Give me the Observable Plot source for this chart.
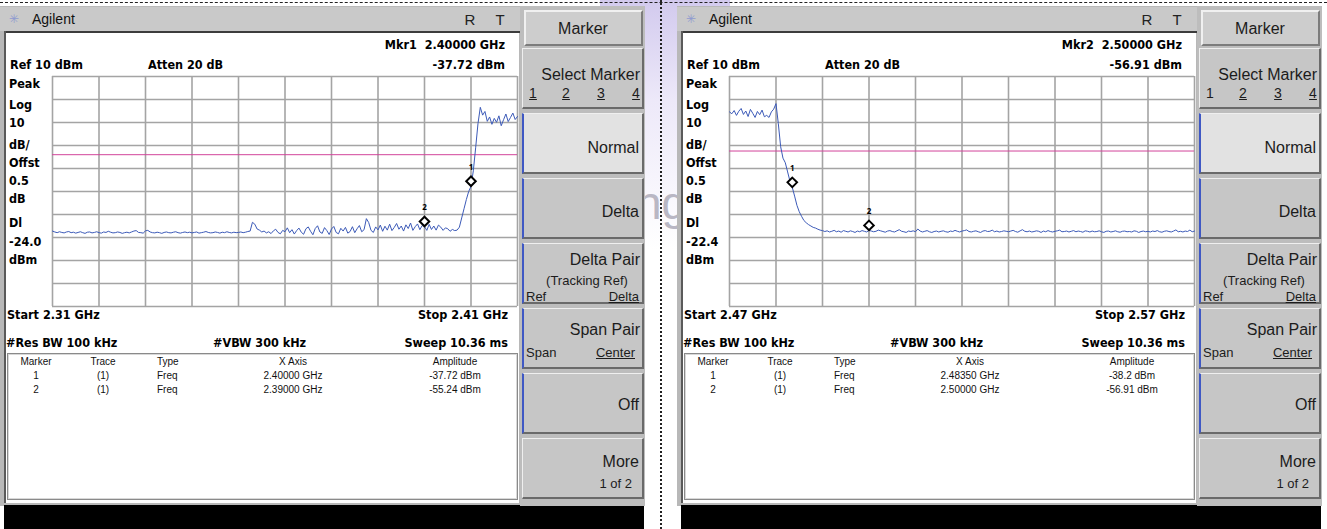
<!DOCTYPE html>
<html><head><meta charset="utf-8">
<script src="https://cdn.jsdelivr.net/npm/d3@7"></script>
<script src="https://cdn.jsdelivr.net/npm/@observablehq/plot@0.6"></script>
<style>
body{margin:0;background:#fff;}
#root{position:relative;width:1327px;height:529px;overflow:hidden;background:#fff;font-family:"Liberation Sans",Arial,sans-serif;}
.a{position:absolute;white-space:pre;box-sizing:border-box;}
.b{font-family:"Liberation Sans Narrow","DejaVu Sans Condensed",sans-serif;font-weight:bold;color:#000;}
.r{font-family:"Liberation Sans",Arial,sans-serif;color:#1c1c1c;}
.key{background:#c6c6c6;border-top:1px solid #efefef;border-left:1px solid #efefef;border-right:2px solid #6a6a6a;border-bottom:2px solid #6a6a6a;}
</style></head>
<body><div id="root"></div>
<script>
// ---------- data ----------
const refLevel = 10;
const yGridLevels = [10, 0, -10, -20, -30, -40, -50, -60, -70, -80, -90];
const leftSpan = [2.31, 2.41];
const rightSpan = [2.47, 2.57];
const leftDisplayLine = -24.0;
const rightDisplayLine = -22.4;
const leftMarkerFreq = [2.40, 2.39];
const leftMarkerAmp = [-37.72, -55.24];
const rightMarkerFreq = [2.4835, 2.50];
const rightMarkerAmp = [-38.2, -56.91];

const leftTrace = [
-57.2,-57.6,-57.9,-57.5,-57.8,-58.0,-57.6,-57.4,-57.9,-57.7,
-58.1,-57.8,-57.5,-57.9,-58.2,-57.7,-57.6,-58.0,-57.8,-57.5,
-57.9,-58.1,-57.6,-57.8,-57.3,-57.7,-58.0,-57.9,-57.6,-57.8,
-58.2,-57.9,-57.7,-58.0,-57.6,-57.2,-57.0,-57.8,-57.9,-58.1,
-57.1,-56.9,-57.6,-57.9,-58.0,-57.7,-57.9,-58.2,-57.8,-57.6,
-57.9,-58.0,-57.7,-57.5,-57.9,-58.1,-57.8,-57.6,-57.9,-57.7,
-58.0,-57.8,-57.6,-58.1,-57.9,-57.7,-57.4,-57.8,-58.0,-57.9,
-57.6,-57.8,-58.1,-57.7,-57.9,-57.5,-57.8,-58.0,-57.7,-57.9,
-57.8,-57.6,-57.9,-57.7,-57.4,-57.2,-53.4,-54.2,-56.3,-56.8,
-57.6,-57.2,-58.0,-57.5,-58.3,-57.1,-56.4,-57.8,-58.4,-56.9,
-57.5,-55.8,-57.9,-56.6,-58.5,-57.0,-55.9,-57.7,-58.6,-56.2,
-55.4,-57.3,-58.8,-56.1,-54.9,-57.6,-58.2,-55.7,-57.0,-58.7,
-56.3,-55.2,-57.8,-58.4,-56.0,-57.2,-55.6,-58.1,-57.4,-55.3,
-57.9,-56.2,-54.8,-57.5,-56.6,-51.8,-53.5,-56.9,-57.8,-55.4,
-56.7,-54.6,-57.3,-55.1,-56.8,-54.2,-57.0,-55.6,-53.9,-56.4,
-55.0,-57.2,-54.5,-56.1,-53.7,-56.9,-55.3,-54.1,-56.6,-54.8,
-55.24,-56.9,-54.3,-56.5,-55.0,-56.8,-54.6,-55.5,-56.9,-55.8,
-56.2,-57.3,-56.5,-57.0,-56.8,-55.5,-51.5,-47.5,-43.5,-40.0,
-37.72,-31.0,-21.0,-10.5,-3.4,-6.8,-5.2,-9.5,-7.6,-10.8,
-8.2,-9.9,-7.1,-11.4,-8.8,-6.3,-9.6,-7.8,-5.9,-8.7,
-7.4];

const rightTrace = [
-5.4,-6.2,-4.8,-6.9,-5.1,-3.9,-6.5,-5.0,-7.4,-4.3,
-6.0,-7.8,-5.2,-6.6,-4.6,-7.5,-6.9,-7.8,-5.4,-4.2,
-1.8,-10.5,-20.5,-25.5,-27.5,-31.5,-35.5,-38.2,-42.0,-46.0,
-48.8,-50.8,-52.6,-53.6,-54.4,-55.0,-55.6,-55.9,-56.4,-56.8,
-57.0,-57.4,-57.1,-57.6,-57.3,-56.9,-57.5,-57.2,-57.7,-57.0,
-57.3,-57.6,-57.1,-57.4,-57.8,-57.2,-57.5,-57.0,-57.3,-57.6,
-56.91,-57.2,-57.5,-57.3,-56.8,-57.1,-57.4,-57.7,-57.2,-57.0,
-57.4,-57.6,-57.1,-56.6,-57.3,-57.5,-57.8,-57.2,-57.4,-57.1,
-57.5,-56.3,-57.2,-57.6,-57.3,-57.0,-57.5,-57.8,-57.4,-57.2,
-57.6,-57.3,-57.1,-57.5,-57.7,-57.2,-57.4,-56.9,-57.3,-57.6,
-57.2,-57.0,-56.7,-57.4,-57.6,-57.3,-57.1,-57.5,-57.8,-57.2,
-57.0,-57.4,-57.3,-56.8,-57.5,-57.2,-57.6,-57.4,-57.1,-57.3,
-57.5,-57.2,-56.9,-57.4,-57.7,-57.1,-56.6,-57.3,-57.5,-57.2,
-57.6,-57.4,-57.1,-57.3,-57.8,-57.2,-57.5,-57.0,-57.4,-57.6,
-57.3,-57.1,-56.8,-57.5,-57.4,-57.2,-57.6,-57.3,-57.0,-57.5,
-57.2,-57.4,-57.7,-57.1,-57.3,-57.6,-57.2,-57.5,-57.4,-57.1,
-57.5,-57.8,-57.3,-57.2,-57.6,-57.4,-57.1,-57.5,-57.7,-57.3,
-57.2,-57.5,-57.4,-57.6,-57.1,-57.3,-57.8,-57.4,-57.2,-57.5,
-57.3,-57.6,-57.2,-57.4,-57.0,-57.5,-57.7,-57.3,-57.1,-57.4,
-57.6,-57.2,-56.7,-57.5,-57.3,-57.6,-57.2,-57.4,-56.8,-57.5,
-57.2];

const leftMkrReadout = ["Mkr1  2.40000 GHz", "-37.72 dBm"];
const rightMkrReadout = ["Mkr2  2.50000 GHz", "-56.91 dBm"];
const leftSideLabels = ["Peak", "Log", "10", "dB/", "Offst", "0.5", "dB", "Dl", "-24.0", "dBm"];
const rightSideLabels = ["Peak", "Log", "10", "dB/", "Offst", "0.5", "dB", "Dl", "-22.4", "dBm"];
const leftStartStop = ["Start 2.31 GHz", "Stop 2.41 GHz"];
const rightStartStop = ["Start 2.47 GHz", "Stop 2.57 GHz"];
const bwLabels = ["#Res BW 100 kHz", "#VBW 300 kHz", "Sweep 10.36 ms"];
const setupLabels = ["Ref 10 dBm", "Atten 20 dB"];
const tableHeader = ["Marker", "Trace", "Type", "X Axis", "Amplitude"];
const leftRows = [["1", "(1)", "Freq", "2.40000 GHz", "-37.72 dBm"], ["2", "(1)", "Freq", "2.39000 GHz", "-55.24 dBm"]];
const rightRows = [["1", "(1)", "Freq", "2.48350 GHz", "-38.2 dBm"], ["2", "(1)", "Freq", "2.50000 GHz", "-56.91 dBm"]];
const softkeys = ["Marker", "Select Marker", "Normal", "Delta", "Delta Pair", "Span Pair", "Off", "More"];
const softkeySubs = {"Delta Pair": ["(Tracking Ref)", "Ref", "Delta"], "Span Pair": ["Span", "Center"], "More": ["1 of 2"]};
const markerDigits = ["1", "2", "3", "4"];

// ---------- helpers ----------
const root = document.getElementById("root");
function box(x, y, w, h, bg, extra) {
  const d = document.createElement("div");
  d.className = "a";
  Object.assign(d.style, {left: x + "px", top: y + "px", width: w + "px", height: h + "px", background: bg}, extra || {});
  root.appendChild(d);
  return d;
}
function txt(x, y, s, o) {
  o = o || {};
  const d = document.createElement("div");
  d.className = "a " + (o.cls || "r");
  d.textContent = s;
  const fs = o.size || 13;
  d.style.fontSize = fs + "px";
  d.style.lineHeight = (fs + 2) + "px";
  d.style.top = (y - (fs + 2) / 2) + "px";
  if (o.align === "r") { d.style.left = (x - 300) + "px"; d.style.width = "300px"; d.style.textAlign = "right"; }
  else if (o.align === "c") { d.style.left = (x - 150) + "px"; d.style.width = "300px"; d.style.textAlign = "center"; }
  else d.style.left = x + "px";
  if (o.u) d.style.textDecoration = "underline";
  if (o.color) d.style.color = o.color;
  root.appendChild(d);
  return d;
}

function tracePlot(values, span, mFreq, mAmp, dl) {
  const n = values.length;
  const pts = values.map((a, i) => ({f: span[0] + (span[1] - span[0]) * i / (n - 1), a}));
  const mk = mFreq.map((f, i) => ({f, a: mAmp[i], n: String(i + 1)}));
  const xGrid = d3.range(0, 11).map(i => span[0] + (span[1] - span[0]) * i / 10);
  return Plot.plot({
    width: 467, height: 232, margin: 1,
    style: {background: "transparent", overflow: "visible"},
    x: {domain: span, axis: null},
    y: {domain: [yGridLevels[yGridLevels.length - 1], refLevel], axis: null},
    marks: [
      Plot.ruleX(xGrid, {stroke: "#a4a4a4", strokeWidth: 1.6}),
      Plot.ruleY(yGridLevels, {stroke: "#a4a4a4", strokeWidth: 1.6}),
      Plot.ruleY([dl], {stroke: "#d2449a", strokeWidth: 1}),
      Plot.line(pts, {x: "f", y: "a", stroke: "#3c5ab8", strokeWidth: 1}),
      Plot.dot(mk, {x: "f", y: "a", symbol: "diamond2", r: 4.3, stroke: "#000", strokeWidth: 2, fill: "#fff", dy: -5}),
      Plot.text(mk, {x: "f", y: "a", text: "n", dy: -19, fontSize: 8, fontWeight: "bold", fill: "#000"})
    ]
  });
}

// ---------- background ----------
box(600, 0, 130, 250, "linear-gradient(180deg, rgba(205,196,236,0.9) 0%, rgba(225,218,245,0.6) 40%, rgba(255,255,255,0) 100%)");
txt(636, 203, "ng", {size: 46, color: "#b9b7c4"});
box(0, 2, 1327, 0, "transparent", {borderTop: "1px dashed #222"});
box(660, 0, 0, 529, "transparent", {borderLeft: "2px dotted #222"});

// ---------- panel ----------
function panel(ox, cfg) {
  box(ox, 6, 645, 500, "#b8b8b8");
  box(ox, 7, 520, 24, "#c9c9c9");
  txt(ox + 9, 19, "✳", {size: 12, color: "#8f9ad0"});
  txt(ox + 32, 19, "Agilent", {size: 14, color: "#111"});
  txt(ox + 470, 19, "R", {size: 15, align: "c", color: "#222"});
  txt(ox + 500, 19, "T", {size: 15, align: "c", color: "#222"});
  box(ox + 4, 31, 516, 2, "#3c3c3c");
  box(ox + 4, 31, 2, 472, "#5a5a5a");
  box(ox + 6, 33, 513, 470, "#ffffff");
  box(ox + 7, 353, 511, 147, "#ffffff", {border: "1px solid #8a8a8a", boxShadow: "inset 0 0 0 1px #d8d8d8"});
  box(ox + 4, 505, 640, 24, "#000");

  const bs = 12.5;
  txt(ox + 505, 45, cfg.mkr[0], {cls: "b", size: bs, align: "r"});
  txt(ox + 505, 65, cfg.mkr[1], {cls: "b", size: bs, align: "r"});
  txt(ox + 10, 65, setupLabels[0], {cls: "b", size: bs});
  txt(ox + 148, 65, setupLabels[1], {cls: "b", size: bs});
  const sideY = [84, 105, 123, 145, 163, 181, 199, 223, 242, 260];
  cfg.side.forEach((s, i) => txt(ox + 9, sideY[i], s, {cls: "b", size: bs}));
  txt(ox + 7, 315, cfg.ss[0], {cls: "b", size: bs});
  txt(ox + 508, 315, cfg.ss[1], {cls: "b", size: bs, align: "r"});
  txt(ox + 6, 343, bwLabels[0], {cls: "b", size: bs});
  txt(ox + 213, 343, bwLabels[1], {cls: "b", size: bs});
  txt(ox + 508, 343, bwLabels[2], {cls: "b", size: bs, align: "r"});

  const colX = [36, 103, 157, 293, 455];
  const colA = ["c", "c", "l", "c", "c"];
  [tableHeader, ...cfg.rows].forEach((row, r) => {
    row.forEach((s, c) => txt(ox + colX[c], 362 + r * 14, s, {size: 10, align: colA[c], color: "#111"}));
  });

  const svg = tracePlot(cfg.trace, cfg.span, cfg.mf, cfg.ma, cfg.dl);
  svg.style.position = "absolute";
  svg.style.left = (ox + 51) + "px";
  svg.style.top = "75px";
  root.appendChild(svg);

  const kx = ox + 522, kw = 122;
  box(ox + 520, 6, 125, 500, "#bdbdbd");
  box(kx + 2, 10, kw - 3, 36, "#cdcdcd", {border: "2px solid #f0f0f0", borderRightColor: "#7c7c7c", borderBottomColor: "#7c7c7c"});
  txt(kx + kw / 2, 29, softkeys[0], {size: 16, align: "c"});
  const tops = [48, 113, 178, 243, 308, 373, 438];
  tops.forEach((t, i) => {
    const k = box(kx, t, kw, 61, "#c6c6c6");
    k.classList.add("key");
    if (i === 1) k.style.background = "#e2e2e2";
    if (i >= 1 && i <= 5) k.style.borderLeft = "2px solid #3f58c4";
  });
  txt(kx + kw - 4, 75, softkeys[1], {size: 16, align: "r"});
  const dx = [11, 44, 79, 114];
  markerDigits.forEach((d, i) => txt(kx + dx[i], 93, d, {size: 14, align: "c", u: cfg.ul[i]}));
  txt(kx + kw - 5, 148, softkeys[2], {size: 16, align: "r"});
  txt(kx + kw - 5, 212, softkeys[3], {size: 16, align: "r"});
  txt(kx + kw - 4, 260, softkeys[4], {size: 16, align: "r"});
  txt(kx + 65, 280, softkeySubs["Delta Pair"][0], {size: 13, align: "c"});
  txt(kx + 4, 296, softkeySubs["Delta Pair"][1], {size: 13});
  txt(kx + kw - 5, 296, softkeySubs["Delta Pair"][2], {size: 13, align: "r", u: true});
  txt(kx + kw - 4, 330, softkeys[5], {size: 16, align: "r"});
  txt(kx + 4, 352, softkeySubs["Span Pair"][0], {size: 13});
  txt(kx + kw - 9, 352, softkeySubs["Span Pair"][1], {size: 13, align: "r", u: true});
  txt(kx + kw - 5, 405, softkeys[6], {size: 16, align: "r"});
  txt(kx + kw - 5, 462, softkeys[7], {size: 16, align: "r"});
  txt(kx + kw - 12, 483, softkeySubs["More"][0], {size: 13, align: "r"});
}

panel(0, {mkr: leftMkrReadout, side: leftSideLabels, ss: leftStartStop, rows: leftRows, trace: leftTrace, span: leftSpan, mf: leftMarkerFreq, ma: leftMarkerAmp, dl: leftDisplayLine, ul: [true, true, true, true]});
panel(677, {mkr: rightMkrReadout, side: rightSideLabels, ss: rightStartStop, rows: rightRows, trace: rightTrace, span: rightSpan, mf: rightMarkerFreq, ma: rightMarkerAmp, dl: rightDisplayLine, ul: [false, true, true, true]});
</script>
</body></html>
